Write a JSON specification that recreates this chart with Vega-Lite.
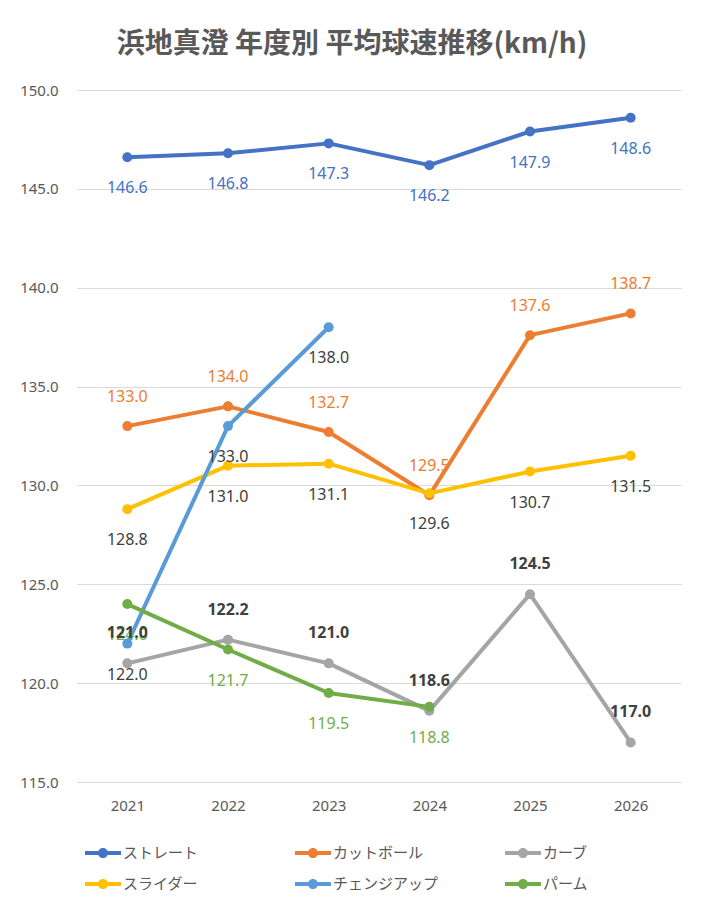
{
  "$schema": "https://vega.github.io/schema/vega-lite/v6.json",
  "autosize": "none",
  "width": 604,
  "height": 692,
  "padding": {"left": 77, "top": 90, "right": 24, "bottom": 121},
  "background": "white",
  "title": {
    "text": "浜地真澄 年度別 平均球速推移(km/h)",
    "font": "Noto Sans CJK JP",
    "fontSize": 28,
    "fontWeight": "bold",
    "color": "#595959",
    "anchor": "middle",
    "dx": -27,
    "offset": 24
  },
  "config": {
    "view": {"stroke": null}
  },
  "data": {
    "values": [
      {"pitch": "ストレート", "year": "2021", "speed": 146.6},
      {"pitch": "ストレート", "year": "2022", "speed": 146.8},
      {"pitch": "ストレート", "year": "2023", "speed": 147.3},
      {"pitch": "ストレート", "year": "2024", "speed": 146.2},
      {"pitch": "ストレート", "year": "2025", "speed": 147.9},
      {"pitch": "ストレート", "year": "2026", "speed": 148.6},
      {"pitch": "カットボール", "year": "2021", "speed": 133.0},
      {"pitch": "カットボール", "year": "2022", "speed": 134.0},
      {"pitch": "カットボール", "year": "2023", "speed": 132.7},
      {"pitch": "カットボール", "year": "2024", "speed": 129.5},
      {"pitch": "カットボール", "year": "2025", "speed": 137.6},
      {"pitch": "カットボール", "year": "2026", "speed": 138.7},
      {"pitch": "カーブ", "year": "2021", "speed": 121.0},
      {"pitch": "カーブ", "year": "2022", "speed": 122.2},
      {"pitch": "カーブ", "year": "2023", "speed": 121.0},
      {"pitch": "カーブ", "year": "2024", "speed": 118.6},
      {"pitch": "カーブ", "year": "2025", "speed": 124.5},
      {"pitch": "カーブ", "year": "2026", "speed": 117.0},
      {"pitch": "スライダー", "year": "2021", "speed": 128.8},
      {"pitch": "スライダー", "year": "2022", "speed": 131.0},
      {"pitch": "スライダー", "year": "2023", "speed": 131.1},
      {"pitch": "スライダー", "year": "2024", "speed": 129.6},
      {"pitch": "スライダー", "year": "2025", "speed": 130.7},
      {"pitch": "スライダー", "year": "2026", "speed": 131.5},
      {"pitch": "チェンジアップ", "year": "2021", "speed": 122.0},
      {"pitch": "チェンジアップ", "year": "2022", "speed": 133.0},
      {"pitch": "チェンジアップ", "year": "2023", "speed": 138.0},
      {"pitch": "パーム", "year": "2021", "speed": 124.0},
      {"pitch": "パーム", "year": "2022", "speed": 121.7},
      {"pitch": "パーム", "year": "2023", "speed": 119.5},
      {"pitch": "パーム", "year": "2024", "speed": 118.8}
    ]
  },
  "encoding": {
    "x": {
      "field": "year", "type": "ordinal",
      "scale": {"type": "point", "padding": 0.5},
      "axis": {"title": null, "labelAngle": 0, "labelPadding": 16, "grid": false, "domain": false, "ticks": false,
               "labelFont": "Noto Sans", "labelFontSize": 15, "labelColor": "#595959"}
    },
    "y": {
      "field": "speed", "type": "quantitative",
      "scale": {"domain": [115, 150], "nice": false, "zero": false},
      "axis": {"title": null, "values": [115, 120, 125, 130, 135, 140, 145, 150], "format": ".1f", "labelPadding": 19,
               "grid": true, "gridColor": "#d9d9d9", "gridWidth": 1, "domain": false, "ticks": false,
               "labelFont": "Noto Sans", "labelFontSize": 15, "labelColor": "#595959"}
    }
  },
  "layer": [
    {
      "mark": {"type": "line", "strokeWidth": 4, "strokeJoin": "round", "strokeCap": "round"},
      "encoding": {
        "color": {
          "field": "pitch", "type": "nominal",
          "scale": {
            "domain": ["ストレート", "カットボール", "カーブ", "スライダー", "チェンジアップ", "パーム"],
            "range": ["#4472C4", "#ED7D31", "#A5A5A5", "#FFC000", "#5B9BD5", "#70AD47"]
          },
          "legend": {
            "title": null,
            "orient": "none",
            "legendX": 8,
            "legendY": 745,
            "direction": "horizontal",
            "columns": 3,
            "gridAlign": "all",
            "columnPadding": 66,
            "rowPadding": 5,
            "labelFont": "Noto Sans CJK JP",
            "labelFontSize": 15,
            "labelColor": "#595959",
            "labelOffset": 2,
            "symbolSize": 1296,
            "symbolStrokeWidth": 0,
            "symbolType": "M-1,-0.11 L1,-0.11 L1,0.11 L-1,0.11 Z M0.28,0 A0.28,0.28 0 1,1 -0.28,0 A0.28,0.28 0 1,1 0.28,0 Z",
            "encode": {"symbols": {"update": {"fill": {"scale": "color", "field": "value"}, "stroke": {"value": "transparent"}}}}
          }
        },
        "order": {"field": "year"}
      }
    },
    {
      "mark": {"type": "point", "filled": true, "opacity": 1, "size": 100},
      "encoding": {"color": {"field": "pitch", "type": "nominal"}}
    },
    {
      "transform": [{"filter": "datum.pitch === 'ストレート'"}],
      "mark": {"type": "text", "font": "Noto Sans", "fontSize": 16, "baseline": "middle", "dy": 31, "color": "#4472C4"},
      "encoding": {"text": {"field": "speed", "type": "quantitative", "format": ".1f"}}
    },
    {
      "transform": [{"filter": "datum.pitch === 'パーム'"}],
      "mark": {"type": "text", "font": "Noto Sans", "fontSize": 16, "baseline": "middle", "dy": 31, "color": "#70AD47"},
      "encoding": {"text": {"field": "speed", "type": "quantitative", "format": ".1f"}}
    },
    {
      "transform": [{"filter": "datum.pitch === 'スライダー' || datum.pitch === 'チェンジアップ'"}],
      "mark": {"type": "text", "font": "Noto Sans", "fontSize": 16, "baseline": "middle", "dy": 31, "color": "#404040"},
      "encoding": {"text": {"field": "speed", "type": "quantitative", "format": ".1f"}}
    },
    {
      "transform": [{"filter": "datum.pitch === 'カットボール'"}],
      "mark": {"type": "text", "font": "Noto Sans", "fontSize": 16, "baseline": "middle", "dy": -29, "color": "#ED7D31"},
      "encoding": {"text": {"field": "speed", "type": "quantitative", "format": ".1f"}}
    },
    {
      "transform": [{"filter": "datum.pitch === 'カーブ'"}],
      "mark": {"type": "text", "font": "Noto Sans", "fontSize": 16, "fontWeight": "bold", "baseline": "middle", "dy": -30, "color": "#404040"},
      "encoding": {"text": {"field": "speed", "type": "quantitative", "format": ".1f"}}
    }
  ]
}
